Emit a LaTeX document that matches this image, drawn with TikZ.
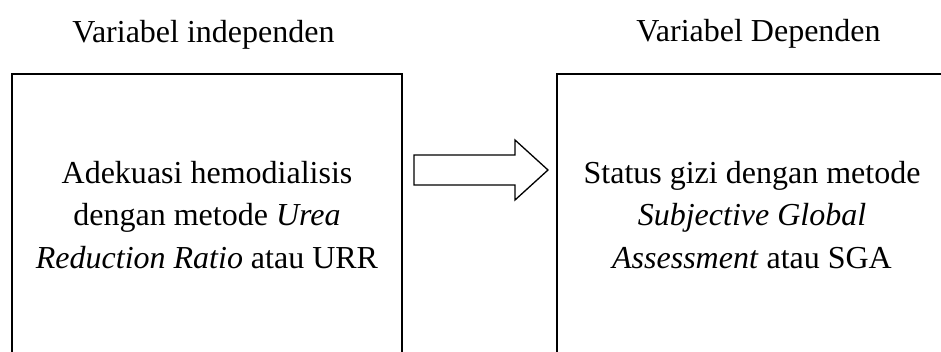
\documentclass[tikz,border=0pt]{standalone}
\usepackage{fontspec}
\setmainfont{Liberation Serif}
\begin{document}
\begin{tikzpicture}[x=1pt,y=-1pt,
  box/.style={draw, line width=1.5pt, minimum width=390pt, minimum height=282pt, inner sep=0pt, align=center, font=\fontsize{32}{42.5}\selectfont},
  title/.style={font=\fontsize{32}{38}\selectfont, anchor=base, inner sep=0pt},
  blockarrow/.style={draw, line width=1.3pt, line join=miter}]
\useasboundingbox (0,0) rectangle (941,351);
\clip (0,0) rectangle (941,351);
\node[title] (t1) at (203.5,42) {Variabel independen};
\node[title] (t2) at (758.5,41) {Variabel Dependen};
\node[box] (iv) at (207,215) {Adekuasi hemodialisis\\dengan metode \textit{Urea}\\\textit{Reduction Ratio} atau URR};
\node[box] (dv) at (752,215) {Status gizi dengan metode\\\textit{Subjective Global}\\\textit{Assessment} atau SGA};
\coordinate (a) at (414,170);
\draw[blockarrow] (a) ++(0,-15) -- ++(101,0) -- ++(0,-15) -- ++(33,30) -- ++(-33,30) -- ++(0,-15) -- ++(-101,0) -- cycle;
\end{tikzpicture}
\end{document}
